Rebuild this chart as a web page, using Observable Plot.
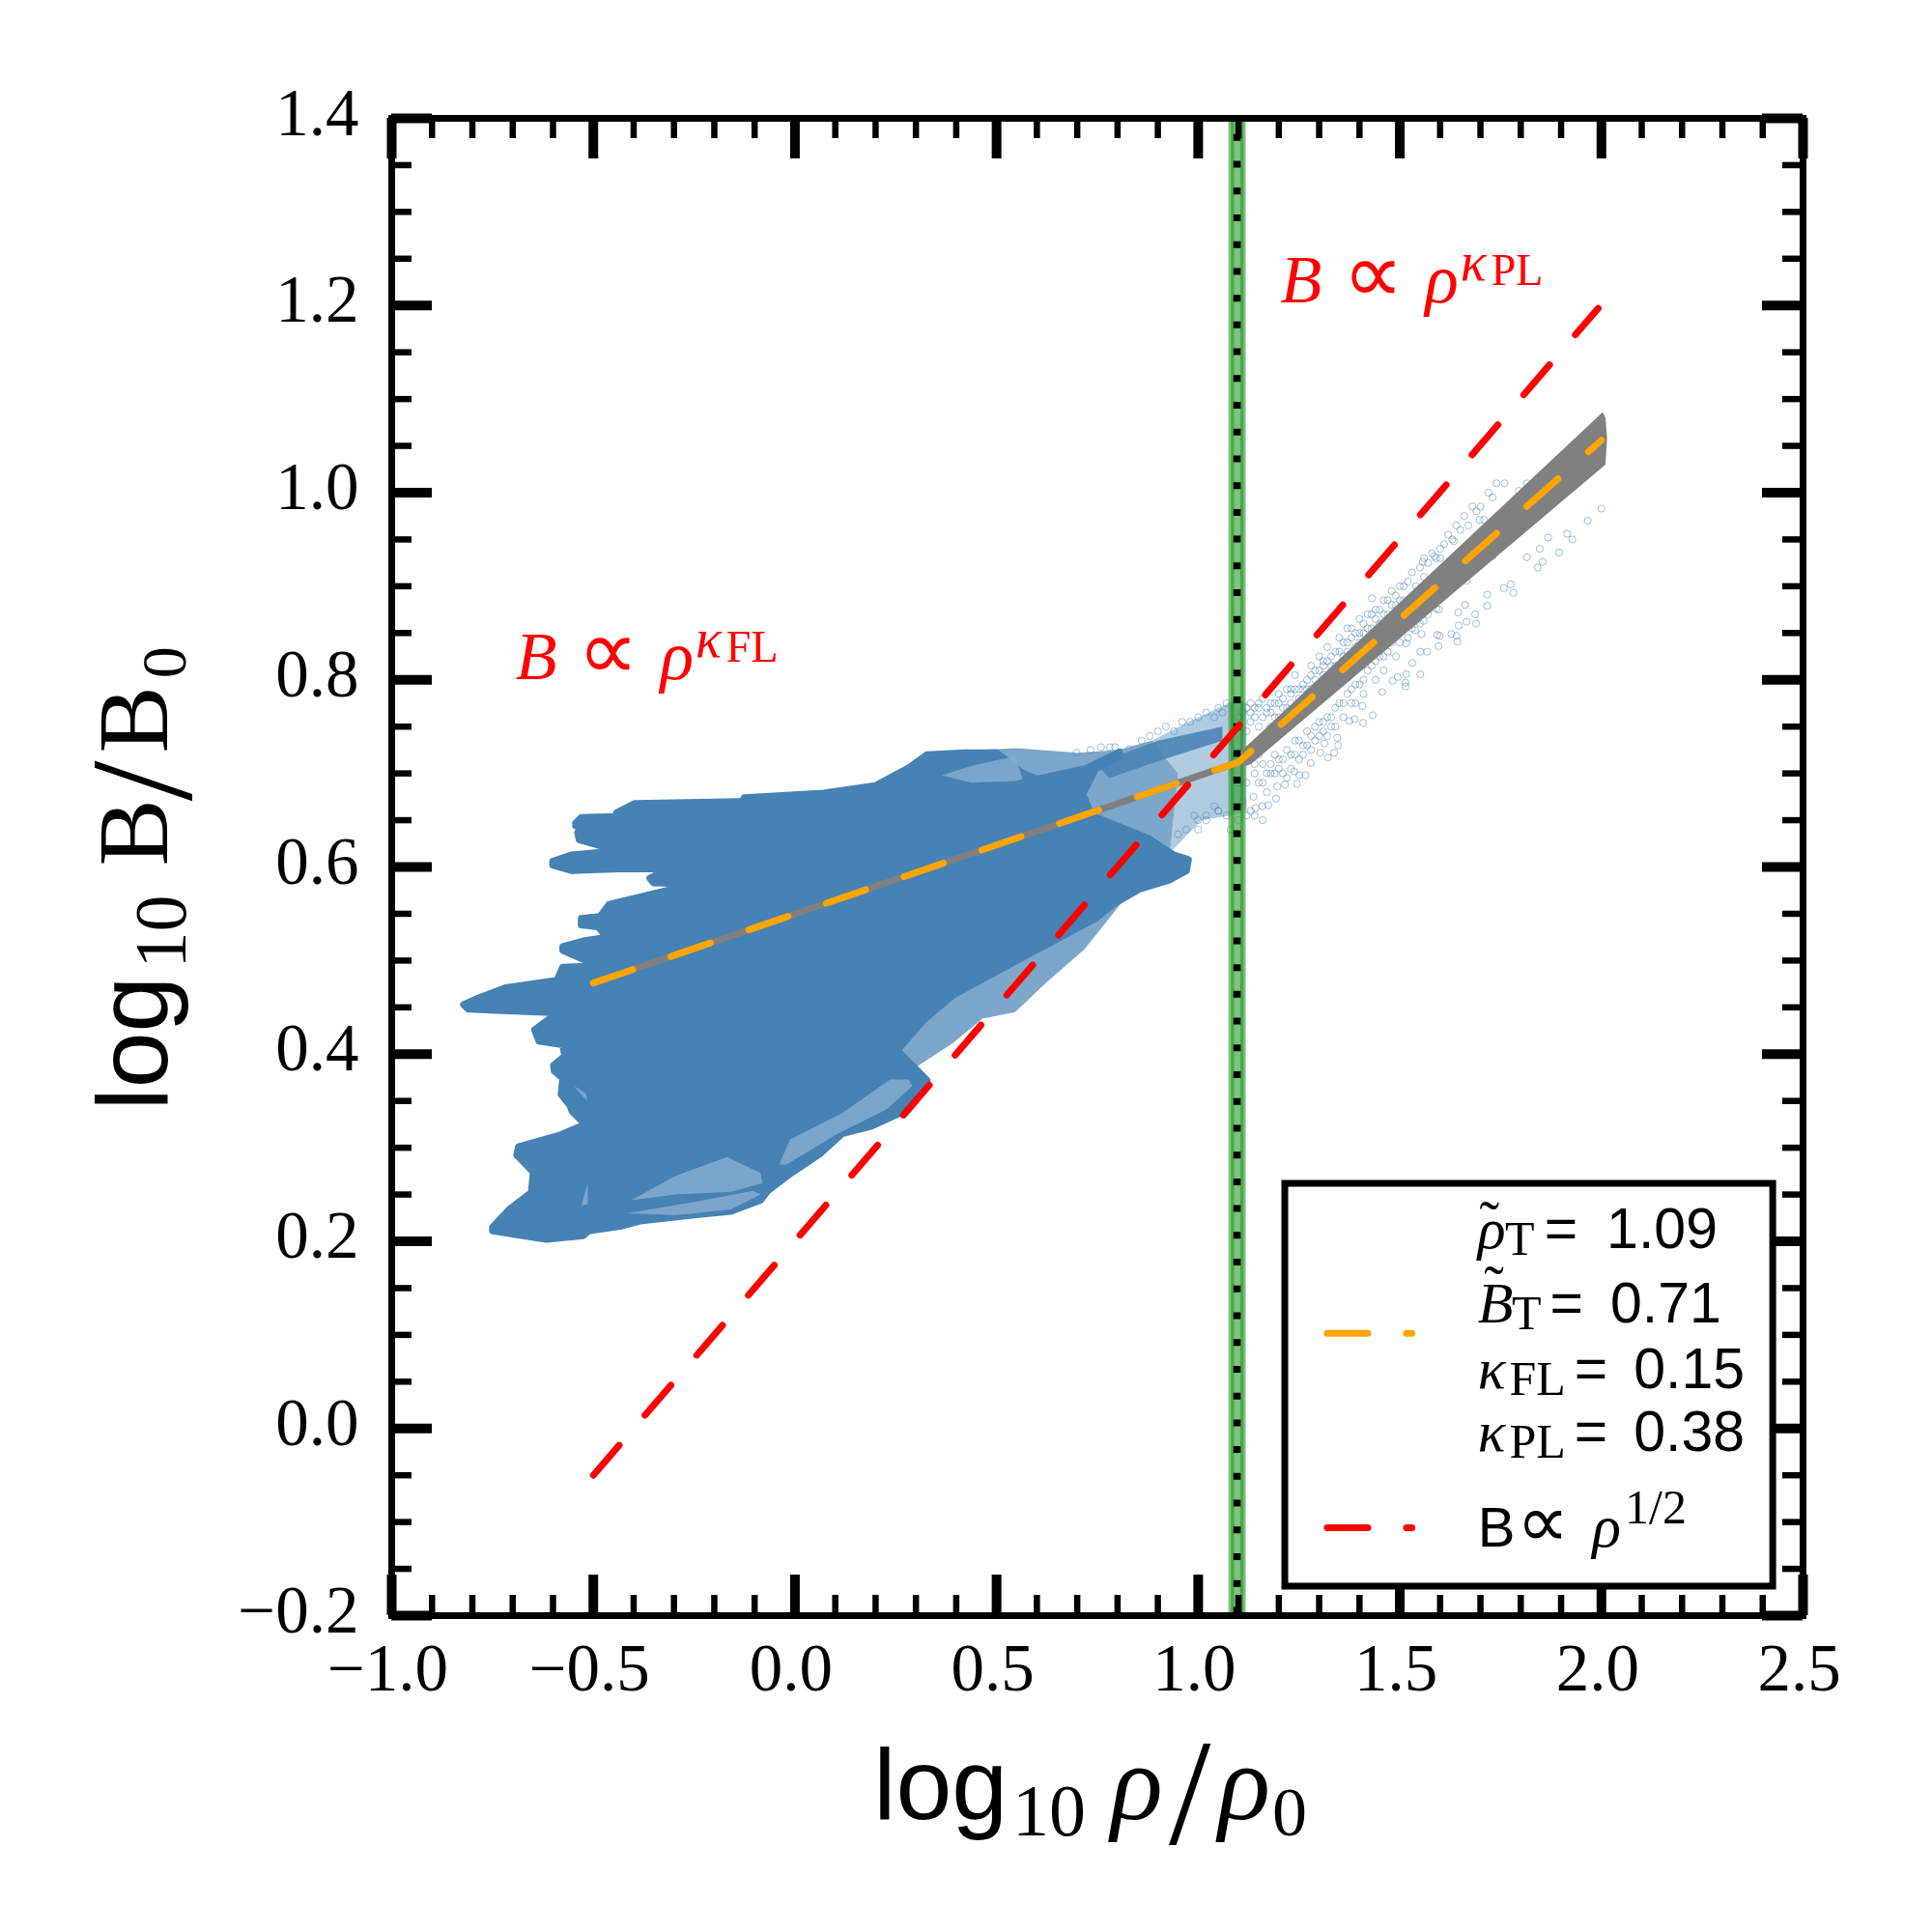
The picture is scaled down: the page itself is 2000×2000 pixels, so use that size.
<!DOCTYPE html>
<html>
<head>
<meta charset="utf-8">
<script src="https://cdn.jsdelivr.net/npm/d3@7"></script>
<script src="https://cdn.jsdelivr.net/npm/@observablehq/plot@0.6"></script>
<style>html,body{margin:0;padding:0;background:#fff}svg{display:block}</style>
</head>
<body>
<div id="chart"></div>
<script>
// ---- values (x = log10 rho/rho0, y = log10 B/B0) ----
const xMajor = [-1, -0.5, 0, 0.5, 1, 1.5, 2, 2.5];
const xMinor = [-0.9,-0.8,-0.7,-0.6,-0.4,-0.3,-0.2,-0.1,0.1,0.2,0.3,0.4,0.6,0.7,0.8,0.9,1.1,1.2,1.3,1.4,1.6,1.7,1.8,1.9,2.1,2.2,2.3,2.4];
const yMajor = [-0.2, 0, 0.2, 0.4, 0.6, 0.8, 1.0, 1.2, 1.4];
const yMinor = [-0.15,-0.1,-0.05,0.05,0.1,0.15,0.25,0.3,0.35,0.45,0.5,0.55,0.65,0.7,0.75,0.85,0.9,0.95,1.05,1.1,1.15,1.25,1.3,1.35];

const fitLine  = [[-0.5,0.476],[1.1,0.712],[2.0,1.056]];
const fitGray  = [[-0.5,0.476],[1.1,0.712]];
const halfLine = [[-0.5,-0.05],[1.992,1.197]];
const grayBand = [[1.105,0.723],[2.003,1.086],[2.010,1.080],[2.014,1.058],[2.010,1.030],[1.131,0.710],[1.110,0.707]];
const greenBandCentre = [1.0963];
const greenEdges = [1.085, 1.1083];
const transitionX = [1.0963];

const blobSolid = [[-0.544,0.647],[-0.530,0.653],[-0.443,0.654],[-0.443,0.658],[-0.397,0.668],[-0.131,0.670],[-0.126,0.674],[0.071,0.679],[0.199,0.687],[0.282,0.706],[0.327,0.720],[0.42,0.722],[0.50,0.722],[0.565,0.700],[0.60,0.694],[0.72,0.705],[0.805,0.723],[0.805,0.718],[0.746,0.705],[0.714,0.678],[0.736,0.655],[0.875,0.631],[0.939,0.613],[0.976,0.608],[0.971,0.596],[0.928,0.586],[0.853,0.576],[0.789,0.560],[0.746,0.545],[0.546,0.499],[0.392,0.463],[0.318,0.436],[0.254,0.404],[0.300,0.384],[0.328,0.372],[0.318,0.363],[0.282,0.341],[0.190,0.323],[0.117,0.315],[0.061,0.293],[-0.012,0.272],[-0.067,0.254],[-0.085,0.244],[-0.159,0.232],[-0.250,0.228],[-0.379,0.222],[-0.434,0.216],[-0.512,0.211],[-0.525,0.206],[-0.617,0.202],[-0.750,0.211],[-0.750,0.215],[-0.709,0.234],[-0.654,0.252],[-0.649,0.274],[-0.690,0.292],[-0.686,0.301],[-0.580,0.314],[-0.521,0.325],[-0.553,0.339],[-0.558,0.345],[-0.580,0.357],[-0.576,0.374],[-0.597,0.382],[-0.599,0.388],[-0.571,0.398],[-0.576,0.410],[-0.635,0.414],[-0.646,0.426],[-0.608,0.438],[-0.590,0.444],[-0.810,0.448],[-0.822,0.453],[-0.791,0.459],[-0.718,0.471],[-0.590,0.479],[-0.576,0.493],[-0.452,0.495],[-0.525,0.501],[-0.576,0.511],[-0.576,0.515],[-0.525,0.521],[-0.466,0.525],[-0.489,0.536],[-0.530,0.538],[-0.530,0.545],[-0.484,0.547],[-0.461,0.560],[-0.269,0.580],[-0.269,0.582],[-0.351,0.583],[-0.360,0.588],[-0.333,0.594],[-0.236,0.596],[-0.236,0.600],[-0.434,0.598],[-0.553,0.596],[-0.601,0.602],[-0.601,0.606],[-0.553,0.613],[-0.425,0.618],[-0.369,0.620],[-0.470,0.621],[-0.535,0.629],[-0.539,0.637],[-0.530,0.642],[-0.544,0.644]];
const blobStreak = [[0.746,0.710],[0.90,0.735],[1.06,0.750],[1.06,0.735],[0.90,0.713],[0.78,0.695]];
const blobHaloLeft = [[0.33,0.720],[0.45,0.725],[0.55,0.727],[0.70,0.722],[0.80,0.725],[0.885,0.735],[0.95,0.70],[0.93,0.615],[0.84,0.578],[0.718,0.512],[0.627,0.478],[0.546,0.445],[0.465,0.438],[0.392,0.412],[0.300,0.386],[0.254,0.404]];
const blobHaloRight = [[0.885,0.735],[0.98,0.756],[1.06,0.772],[1.10,0.780],[1.12,0.775],[1.12,0.66],[1.08,0.655],[1.008,0.650],[0.93,0.615],[0.95,0.70]];
const hatchPatches = [
  [[-0.406,0.244],[-0.296,0.270],[-0.168,0.290],[-0.085,0.273],[-0.081,0.262],[-0.159,0.253],[-0.296,0.250]],
  [[-0.415,0.230],[-0.250,0.242],[-0.104,0.254],[-0.085,0.250],[-0.159,0.234],[-0.296,0.228]],
  [[-0.039,0.282],[-0.012,0.309],[0.117,0.337],[0.236,0.373],[0.282,0.373],[0.291,0.366],[0.227,0.341],[0.107,0.315],[-0.021,0.282]],
  [[0.364,0.698],[0.437,0.708],[0.50,0.714],[0.546,0.718],[0.565,0.694],[0.546,0.692],[0.437,0.690]],
  [[-0.548,0.366],[-0.518,0.358],[-0.516,0.350],[-0.540,0.362]],
  [[-0.58,0.231],[-0.53,0.238],[-0.514,0.262],[-0.514,0.240]]
];
const sparsePoints = [[2.000,0.983],[1.966,0.970],[1.915,0.956],[1.928,0.950],[1.868,0.952],[1.847,0.940],[1.895,0.936],[1.815,0.931],[1.854,0.926],[1.842,0.920],[1.775,0.902],[1.758,0.898],[1.782,0.893],[1.717,0.891],[1.717,0.879],[1.662,0.880],[1.645,0.872],[1.687,0.870],[1.665,0.862],[1.689,0.860],[1.646,0.858],[1.597,0.875],[1.593,0.848],[1.599,0.847],[1.628,0.849],[1.641,0.847],[1.643,0.841],[1.596,0.836],[1.551,0.830],[1.568,0.830],[1.531,0.818],[1.551,0.806],[1.516,0.806],[1.514,0.797],[1.514,0.793],[1.495,0.803],[1.482,0.799],[1.456,0.787],[1.433,0.762],[1.407,0.772],[1.409,0.754],[1.375,0.756],[1.388,0.758],[1.345,0.738],[1.347,0.730],[1.313,0.732],[1.322,0.717],[1.279,0.711],[1.337,0.722],[1.303,0.722],[1.266,0.698],[1.238,0.702],[1.251,0.698],[1.215,0.688],[1.245,0.689],[1.193,0.673],[1.196,0.686],[1.174,0.666],[1.159,0.665],[1.142,0.663],[1.137,0.675],[1.538,0.853],[1.516,0.839],[1.554,0.849],[1.559,0.863],[1.591,0.876],[1.666,0.906],[1.730,0.932],[1.431,0.887],[1.557,0.926],[1.634,0.948],[1.586,0.932],[1.698,0.971],[1.709,0.971],[1.795,1.002],[1.816,1.010],[0.698,0.722],[0.733,0.725],[0.759,0.728],[0.781,0.728],[0.830,0.726],[0.794,0.728]];
const denseUpper = [[1.13,0.775],[1.15,0.770],[1.17,0.765],[1.14,0.760],[1.18,0.775],[1.20,0.785],[1.22,0.79],[1.19,0.76],[1.21,0.77],[1.23,0.775],[1.25,0.79],[1.24,0.805],[1.27,0.80],[1.26,0.78],[1.29,0.81],[1.30,0.825],[1.28,0.79],[1.31,0.805],[1.33,0.815],[1.32,0.835],[1.34,0.83],[1.35,0.845],[1.36,0.825],[1.37,0.84],[1.38,0.855],[1.39,0.835],[1.40,0.865],[1.41,0.85],[1.42,0.87],[1.43,0.855],[1.44,0.875],[1.45,0.86],[1.46,0.885],[1.47,0.87],[1.48,0.895],[1.49,0.88],[1.50,0.90],[1.51,0.885],[1.52,0.905],[1.53,0.915],[1.54,0.90],[1.55,0.92],[1.56,0.91],[1.58,0.935],[1.60,0.94],[1.62,0.955],[1.64,0.965],[1.66,0.975],[1.68,0.985],[1.72,1.0],[1.74,1.01],[1.12,0.745],[1.13,0.755],[1.15,0.75],[1.16,0.78],[1.18,0.75],[1.2,0.76],[1.23,0.79],[1.26,0.795],[1.28,0.815],[1.31,0.82],[1.34,0.815],[1.37,0.855],[1.40,0.85]];
const denseLower = [[1.14,0.70],[1.15,0.69],[1.16,0.71],[1.17,0.68],[1.18,0.70],[1.19,0.72],[1.20,0.705],[1.21,0.715],[1.22,0.695],[1.23,0.72],[1.24,0.735],[1.25,0.715],[1.26,0.73],[1.27,0.745],[1.28,0.725],[1.29,0.75],[1.30,0.74],[1.31,0.755],[1.32,0.74],[1.33,0.76],[1.34,0.75],[1.35,0.775],[1.36,0.76],[1.38,0.79],[1.39,0.775],[1.40,0.795],[1.41,0.785],[1.42,0.81],[1.44,0.80],[1.45,0.825],[1.46,0.81],[1.47,0.83],[1.49,0.825],[1.50,0.84],[1.52,0.845],[1.53,0.855],[1.55,0.86],[1.57,0.87],[1.00,0.64],[1.02,0.65],[1.05,0.66],[1.08,0.64],[1.10,0.65],[1.12,0.655],[1.11,0.67],[1.13,0.66],[1.14,0.655],[1.16,0.65],[1.10,0.69],[1.12,0.69]];
const ridgeExtra = [[1.56,0.93],[1.57,0.925],[1.59,0.93],[1.60,0.93],[1.61,0.945],[1.63,0.95],[1.65,0.96],[1.67,0.965],[1.69,0.98],[1.70,0.985],[1.73,0.995],[1.76,1.01],[1.28,0.805],[1.29,0.80],[1.30,0.81],[1.31,0.815],[1.32,0.82],[1.33,0.825],[1.35,0.83],[1.36,0.84],[1.37,0.83],[1.38,0.845],[1.39,0.85],[1.40,0.84],[1.41,0.86],[1.42,0.855],[1.43,0.87],[1.44,0.865],[1.45,0.875],[1.46,0.87],[1.47,0.885],[1.48,0.88],[1.49,0.89],[1.50,0.885],[1.51,0.90],[1.10,0.76],[1.11,0.765],[1.12,0.77],[1.13,0.765],[1.14,0.77],[1.15,0.775],[1.16,0.76],[1.17,0.77],[1.18,0.765],[1.19,0.775],[1.2,0.775],[1.21,0.78],[1.22,0.77],[1.23,0.785],[1.24,0.79],[1.25,0.78],[1.26,0.79],[1.27,0.79],[1.14,0.71],[1.15,0.72],[1.16,0.69],[1.17,0.70],[1.18,0.71],[1.19,0.70],[1.2,0.715],[1.21,0.70],[1.22,0.725],[1.23,0.705],[1.24,0.72],[1.25,0.735],[1.26,0.72],[1.27,0.73],[1.28,0.74],[1.29,0.735],[1.30,0.755],[1.31,0.745],[1.32,0.76],[1.33,0.75],[1.34,0.77],[1.36,0.775],[1.37,0.785],[1.38,0.775],[1.39,0.795],[1.41,0.80],[1.43,0.815],[1.44,0.82],[1.46,0.825],[1.48,0.84],[0.86,0.735],[0.88,0.74],[0.90,0.745],[0.92,0.75],[0.94,0.745],[0.96,0.755],[0.98,0.755],[1.0,0.76],[1.02,0.765],[1.04,0.76],[1.05,0.77],[1.06,0.765],[1.07,0.775],[0.90,0.73],[0.95,0.735],[1.0,0.74],[1.05,0.745],[0.95,0.635],[0.97,0.64],[1.0,0.65],[1.02,0.655],[1.05,0.66],[1.07,0.655],[0.99,0.655],[1.04,0.665]];

const legendBox = [{x1:1.216, x2:2.426, y1:-0.169, y2:0.2614}];
const legendFit = [[1.320,0.1017],[1.530,0.1017]];
const legendHalf = [[1.320,-0.106],[1.530,-0.106]];
const legendLabels = [["rhoT",1.693,0.1923],["bT",1.693,0.1138],["kFL",1.693,0.0436],["kPL",1.693,-0.0235],["half",1.693,-0.1257]];
const redLabels = [["redPL",1.204,1.203],["redFL",-0.693,0.801]];
const xLabel = [["xlab",0.195,-0.4168]];
const yLabel = [["ylab",-1.556,0.340]];

// ---- rich text: [string, font key, size, italic, baseline shift, gap before] ----
const SERIF="Liberation Serif", SANS="Liberation Sans", DJ="DejaVu Sans";
const rich = {
  xlab:[["log",SANS,104,0,0,0],["10",SERIF,76,0,17,5],["\u03c1",SERIF,112,1,0,26],["/",SERIF,156,0,25,6],["\u03c1",SERIF,112,1,0,8],["0",SERIF,72,0,17,2]],
  ylab:[["log",SANS,104,0,0,0],["10",SERIF,76,0,19,8],["B",SERIF,104,0,0,30],["/",SERIF,150,0,25,-2],["B",SERIF,104,0,0,8],["0",SERIF,66,0,19,8]],
  redPL:[["B",SERIF,70,1,0,0],["\u221d",DJ,88,0,0,22],["\u03c1",SERIF,72,1,0,22],["\u03ba",SERIF,56,1,-23,2],["PL",SERIF,46,0,-18,5]],
  redFL:[["B",SERIF,70,1,0,0],["\u221d",DJ,88,0,0,22],["\u03c1",SERIF,72,1,0,22],["\u03ba",SERIF,56,1,-23,2],["FL",SERIF,46,0,-18,5]],
  rhoT:[["\u03c1",SERIF,60,1,0,0],["\u02dc",SERIF,62,0,-6,-27],["T",SERIF,50,0,7,6],["=",SANS,59,0,0,10],["1.09",SANS,59,0,0,30]],
  bT:[["B",SERIF,60,1,0,0],["\u02dc",SERIF,62,0,-16,-30],["T",SERIF,50,0,7,8],["=",SANS,59,0,0,9],["0.71",SANS,59,0,0,28]],
  kFL:[["\u03ba",SERIF,60,1,0,0],["FL",SERIF,50,0,7,4],["=",SANS,59,0,0,9],["0.15",SANS,59,0,0,27]],
  kPL:[["\u03ba",SERIF,60,1,0,0],["PL",SERIF,50,0,7,4],["=",SANS,59,0,0,9],["0.38",SANS,59,0,0,27]],
  half:[["B",SANS,58,0,0,0],["\u221d",DJ,76,0,0,2],["\u03c1",SERIF,62,1,0,24],["1/2",SERIF,50,0,-24,4]]
};

const fmt = d => d.toFixed(1).replace("-", "\u2212");
const pt = {x:d=>d[0], y:d=>d[1]};
const W = 2000, H = 2000, mL = 405, mR = 134, mT = 122, mB = 328;
const frameW = W-mL-mR, frameH = H-mT-mB;

const plot = Plot.plot({
  width:W, height:H, marginLeft:mL, marginRight:mR, marginTop:mT, marginBottom:mB,
  style:{background:"#fff", fontFamily:SERIF, overflow:"visible"},
  x:{domain:[-1,2.5], label:null},
  y:{domain:[-0.2,1.4], label:null},
  marks:[
    Plot.line(blobHaloLeft, {...pt, fill:"#4682b4", fillOpacity:0.7, stroke:"none"}),
    Plot.line(blobHaloRight, {...pt, fill:"#4682b4", fillOpacity:0.42, stroke:"none"}),
    Plot.dot(sparsePoints.concat(denseUpper, denseLower, ridgeExtra), {...pt, r:3.6, fill:"none", stroke:"#4682b4", strokeOpacity:0.5, strokeWidth:1}),
    Plot.line(blobSolid, {...pt, fill:"#4682b4", stroke:"#4682b4", strokeWidth:7, strokeLinejoin:"round"}),
    Plot.line(blobStreak, {...pt, fill:"#4682b4", stroke:"none", fillOpacity:0.85}),
    ...hatchPatches.map(p => Plot.line(p, {...pt, fill:"#86abcf", fillOpacity:0.85, stroke:"none"})),
    Plot.ruleX(greenBandCentre, {strokeWidth:18, stroke:"#2e9e2e", strokeOpacity:0.62}),
    Plot.ruleX(greenEdges, {strokeWidth:3.4, stroke:"#008000", strokeOpacity:0.4}),
    Plot.ruleX(transitionX, {strokeWidth:7.5, stroke:"#000", strokeDasharray:"7,20.72", strokeDashoffset:10.9}),
    Plot.line(grayBand, {...pt, fill:"#808080", stroke:"none"}),
    Plot.line(fitGray, {...pt, stroke:"#808080", strokeWidth:7}),
    Plot.line(fitLine, {...pt, stroke:"#ffa500", strokeWidth:7, strokeDasharray:"43,42", strokeLinejoin:"round"}),
    Plot.line(halfLine, {...pt, stroke:"#ff0000", strokeWidth:7, strokeDasharray:"41,41"}),
    // ticks on the four sides
    Plot.tickX(xMinor, {x:d=>d, insetTop:frameH-21, stroke:"#000", strokeWidth:6.5}),
    Plot.tickX(xMinor, {x:d=>d, insetBottom:frameH-21, stroke:"#000", strokeWidth:6.5}),
    Plot.tickX(xMajor, {x:d=>d, insetTop:frameH-42, stroke:"#000", strokeWidth:10}),
    Plot.tickX(xMajor, {x:d=>d, insetBottom:frameH-42, stroke:"#000", strokeWidth:10}),
    Plot.tickY(yMinor, {y:d=>d, insetRight:frameW-21, stroke:"#000", strokeWidth:6.5}),
    Plot.tickY(yMinor, {y:d=>d, insetLeft:frameW-21, stroke:"#000", strokeWidth:6.5}),
    Plot.tickY(yMajor, {y:d=>d, insetRight:frameW-42, stroke:"#000", strokeWidth:10}),
    Plot.tickY(yMajor, {y:d=>d, insetLeft:frameW-42, stroke:"#000", strokeWidth:10}),
    Plot.frame({stroke:"#000", strokeWidth:7}),
    Plot.axisX(xMajor, {anchor:"bottom", tickSize:0, tickPadding:28, fontSize:69, fontFamily:SERIF, tickFormat:fmt, label:null, fill:"#000", dx:-4}),
    Plot.axisY(yMajor, {anchor:"left", tickSize:0, tickPadding:34, fontSize:69, fontFamily:SERIF, tickFormat:fmt, label:null, dy:-5, fill:"#000"}),
    // legend
    Plot.rect(legendBox, {x1:"x1", x2:"x2", y1:"y1", y2:"y2", fill:"#fff", stroke:"#000", strokeWidth:7}),
    Plot.line(legendFit, {...pt, stroke:"#ffa500", strokeWidth:7, strokeDasharray:"42,40"}),
    Plot.line(legendHalf, {...pt, stroke:"#ff0000", strokeWidth:7, strokeDasharray:"42,40"}),
    Plot.text(legendLabels, {x:d=>d[1], y:d=>d[2], text:d=>d[0], textAnchor:"start", lineAnchor:"bottom", fill:"#000", fontSize:58}),
    Plot.text(redLabels, {x:d=>d[1], y:d=>d[2], text:d=>d[0], textAnchor:"start", lineAnchor:"bottom", fill:"#ff0000", fontSize:70}),
    Plot.text(xLabel, {x:d=>d[1], y:d=>d[2], text:d=>d[0], textAnchor:"start", lineAnchor:"bottom", fill:"#000", fontSize:106}),
    Plot.text(yLabel, {x:d=>d[1], y:d=>d[2], text:d=>d[0], textAnchor:"start", lineAnchor:"bottom", rotate:-90, fill:"#000", fontSize:106})
  ]
});

// turn the keyed text marks into real mixed-font text with sub/superscripts
const NS = "http://www.w3.org/2000/svg";
plot.querySelectorAll("text").forEach(t => {
  const segs = rich[t.textContent.trim()];
  if (!segs) return;
  while (t.firstChild) t.removeChild(t.firstChild);
  let base = 0;
  segs.forEach(([str, fam, size, ital, shift, gap]) => {
    const s = document.createElementNS(NS, "tspan");
    s.setAttribute("font-family", fam);
    s.setAttribute("font-size", size);
    s.setAttribute("font-style", ital ? "italic" : "normal");
    if (fam === DJ) s.setAttribute("font-weight", "200");
    s.setAttribute("dy", shift - base);
    s.setAttribute("dx", gap);
    s.textContent = str;
    t.appendChild(s);
    base = shift;
  });
});
document.getElementById("chart").appendChild(plot);
</script>
</body>
</html>
